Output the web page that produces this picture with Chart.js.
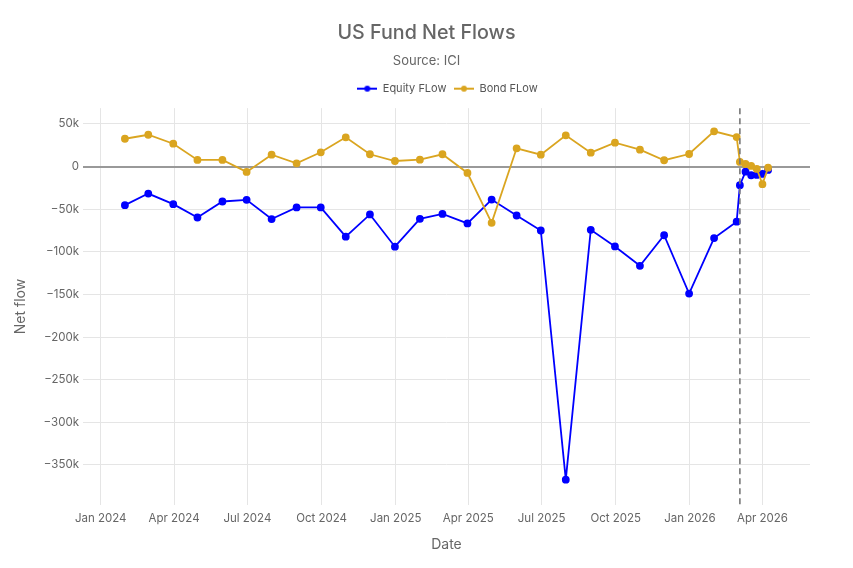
<!DOCTYPE html>
<html>
<head>
<meta charset="utf-8">
<script src="https://cdn.jsdelivr.net/npm/chart.js@4.4.1/dist/chart.umd.min.js"></script>
<style>
  html, body { margin: 0; padding: 0; background: #ffffff; }
  #wrap { width: 853px; height: 568px; }
</style>
</head>
<body>
<div id="wrap"><canvas id="c" width="853" height="568"></canvas></div>
<script>
// ---- data ----
const dates = [
  '2024-01-31','2024-02-29','2024-03-31','2024-04-30','2024-05-31','2024-06-30',
  '2024-07-31','2024-08-31','2024-09-30','2024-10-31','2024-11-30','2024-12-31',
  '2025-01-31','2025-02-28','2025-03-31','2025-04-30','2025-05-31','2025-06-30',
  '2025-07-31','2025-08-31','2025-09-30','2025-10-31','2025-11-30','2025-12-31',
  '2026-01-31','2026-02-28',
  '2026-03-04','2026-03-11','2026-03-18','2026-03-25','2026-04-01','2026-04-08'
];
const equityFlow = [
  -45300, -31700, -44100, -59800, -41000, -39100,
  -61600, -48000, -48000, -82300, -56200, -94000,
  -61300, -55600, -66700, -38700, -57400, -75000,
  -367300, -74200, -93700, -116400, -80600, -149000,
  -83900, -64700,
  -21900, -6000, -10200, -9800, -8700, -4000
];
const bondFlow = [
  32600, 37300, 26800, 7700, 7700, -6300,
  13900, 3800, 16700, 34300, 14400, 6500,
  8100, 14400, -7500, -66000, 21400, 13900,
  36600, 16300, 28000, 19800, 7400, 14700,
  41300, 34600,
  5400, 3000, 700, -2800, -20700, -1300
];
const seriesNames = ['Equity FLow', 'Bond FLow'];
const xTickDates = ['2024-01-01','2024-04-01','2024-07-01','2024-10-01','2025-01-01',
                    '2025-04-01','2025-07-01','2025-10-01','2026-01-01','2026-04-01'];
const xTickLabels = ['Jan 2024','Apr 2024','Jul 2024','Oct 2024','Jan 2025',
                     'Apr 2025','Jul 2025','Oct 2025','Jan 2026','Apr 2026'];
const yTickValues = [50000, 0, -50000, -100000, -150000, -200000, -250000, -300000, -350000];
const yTickLabels = ['50k','0','\u221250k','\u2212100k','\u2212150k','\u2212200k','\u2212250k','\u2212300k','\u2212350k'];
const xMinDate = '2023-12-10';
const xMaxDate = '2026-05-30';
const yMin = -397000;
const yMax = 68500;
const markerDate = '2026-03-04';

// ---- helpers ----
const dayOf = s => Date.UTC(+s.slice(0,4), +s.slice(5,7) - 1, +s.slice(8,10)) / 86400000;
const BLUE = '#0000ff';
const GOLD = '#daa520';
const FONT = 'Inter, "Noto Sans", sans-serif';

function legendImage(color) {
  const c = document.createElement('canvas');
  c.width = 20; c.height = 8;
  const g = c.getContext('2d');
  g.strokeStyle = color; g.lineWidth = 2;
  g.beginPath(); g.moveTo(0, 4); g.lineTo(20, 4); g.stroke();
  g.fillStyle = color;
  g.beginPath(); g.arc(10, 4, 3, 0, Math.PI * 2); g.fill();
  return c;
}
const legendImgs = [legendImage(BLUE), legendImage(GOLD)];

const vline = {
  id: 'vline',
  afterDatasetsDraw(chart) {
    const {ctx, chartArea, scales} = chart;
    const x = scales.x.getPixelForValue(dayOf(markerDate));
    ctx.save();
    ctx.strokeStyle = '#777';
    ctx.lineWidth = 1.6;
    ctx.setLineDash([6, 4]);
    ctx.beginPath();
    ctx.moveTo(x, chartArea.top);
    ctx.lineTo(x, chartArea.bottom);
    ctx.stroke();
    ctx.restore();
  }
};

// legend sits a little right of the page centre in the reference
const legendShift = {
  id: 'legendShift',
  afterLayout(chart) {
    if (chart.legend) { chart.legend.left += 21; chart.legend.right += 21; }
  }
};

new Chart(document.getElementById('c'), {
  type: 'line',
  data: {
    datasets: [
      {
        label: seriesNames[0],
        data: dates.map((d, i) => ({x: dayOf(d), y: equityFlow[i]})),
        borderColor: BLUE, backgroundColor: BLUE,
        borderWidth: 1.8, pointRadius: 3, pointHoverRadius: 3,
        tension: 0, order: 2
      },
      {
        label: seriesNames[1],
        data: dates.map((d, i) => ({x: dayOf(d), y: bondFlow[i]})),
        borderColor: GOLD, backgroundColor: GOLD,
        borderWidth: 1.8, pointRadius: 3, pointHoverRadius: 3,
        tension: 0, order: 1
      }
    ]
  },
  options: {
    responsive: false,
    animation: false,
    devicePixelRatio: 1,
    layout: { padding: { top: 1, left: 0, right: 0, bottom: 0 } },
    plugins: {
      tooltip: { enabled: false },
      title: {
        display: true, text: 'US Fund Net Flows', color: '#666',
        font: { family: FONT, size: 19.7, weight: '500' },
        padding: { top: 20, bottom: 9 }
      },
      subtitle: {
        display: true, text: 'Source: ICI', color: '#666',
        font: { family: FONT, size: 13, weight: 'normal' },
        padding: { top: 0, bottom: 6.4 }
      },
      legend: {
        display: true, position: 'top', align: 'center',
        labels: {
          color: '#555', font: { family: FONT, size: 11 },
          usePointStyle: true, pointStyleWidth: 20, padding: 7.5,
          generateLabels(chart) {
            const items = Chart.defaults.plugins.legend.labels.generateLabels(chart);
            items.sort((a, b) => a.datasetIndex - b.datasetIndex);
            items.forEach(it => { it.pointStyle = legendImgs[it.datasetIndex]; });
            return items;
          },
          sort: (a, b) => a.datasetIndex - b.datasetIndex
        }
      }
    },
    scales: {
      x: {
        type: 'linear',
        min: dayOf(xMinDate), max: dayOf(xMaxDate),
        afterBuildTicks(scale) { scale.ticks = xTickDates.map(d => ({value: dayOf(d)})); },
        afterFit(scale) { scale.height = 63; },
        ticks: {
          color: '#666', font: { family: FONT, size: 11.5 }, padding: 7,
          maxRotation: 0, autoSkip: false,
          callback: (v, i) => xTickLabels[i]
        },
        grid: { color: '#e5e5e5', lineWidth: 1, drawTicks: false },
        border: { display: false },
        title: {
          display: true, text: 'Date', color: '#666',
          font: { family: FONT, size: 14 }, padding: { top: 0, bottom: 15 }
        }
      },
      xTopGap: {
        type: 'linear', position: 'top', display: true,
        afterFit(scale) { scale.height = 4; },
        ticks: { display: false },
        grid: { display: false, drawTicks: false },
        border: { display: false },
        title: { display: false }
      },
      y: {
        type: 'linear', position: 'left',
        min: yMin, max: yMax,
        afterBuildTicks(scale) { scale.ticks = yTickValues.map(v => ({value: v})); },
        afterFit(scale) { scale.width = 83; },
        ticks: {
          color: '#666', font: { family: FONT, size: 11.5 }, padding: 4,
          callback: (v, i) => yTickLabels[i]
        },
        grid: {
          color: c => (c.tick && c.tick.value === 0) ? '#999' : '#e5e5e5',
          lineWidth: c => (c.tick && c.tick.value === 0) ? 2 : 1,
          drawTicks: false
        },
        border: { display: false },
        title: {
          display: true, text: 'Net flow', color: '#666',
          font: { family: FONT, size: 14 }, padding: { top: 12, bottom: 0 }
        }
      },
      yRightMargin: {
        type: 'linear', position: 'right', display: true,
        afterFit(scale) { scale.width = 43; },
        ticks: { display: false },
        grid: { display: false, drawTicks: false },
        border: { display: false },
        title: { display: false }
      }
    }
  },
  plugins: [vline, legendShift]
});
</script>
</body>
</html>
